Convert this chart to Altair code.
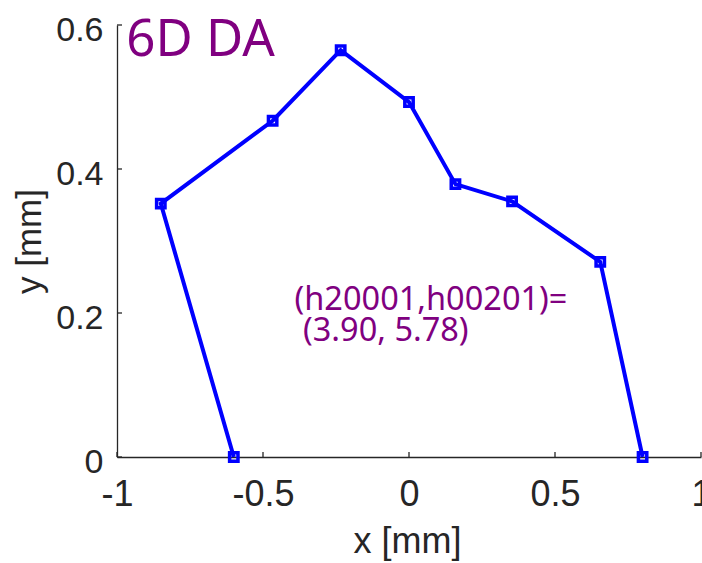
import altair as alt
import pandas as pd

# ---- data ----
x_vals = [-0.60, -0.85, -0.467, -0.234, 0.0, 0.159, 0.353, 0.655, 0.80]
y_vals = [0.0, 0.352, 0.467, 0.565, 0.493, 0.379, 0.355, 0.271, 0.0]

x_ticks = [-1, -0.5, 0, 0.5, 1]
y_ticks = [0, 0.2, 0.4, 0.6]

title_text = "6D DA"
title_pos = (-0.968, 0.557)
note_lines = ["(h20001,h00201)=", "(3.90, 5.78)"]
note_x = [-0.392, -0.363]
note_y = [0.2046, 0.1605]

W, H = 584, 432
BLUE = "#0000FF"
PURPLE = "#800080"
AXIS_GRAY = "#262626"

df = pd.DataFrame({"x": x_vals, "y": y_vals, "i": list(range(len(x_vals)))})
xt = pd.DataFrame({"t": x_ticks})
yt = pd.DataFrame({"t": y_ticks})
title_df = pd.DataFrame({"x": [title_pos[0]], "y": [title_pos[1]], "label": [title_text]})
note_df = pd.DataFrame({"x": note_x, "y": note_y, "label": note_lines})

xscale = alt.Scale(domain=[-1, 1], nice=False, zero=False)
yscale = alt.Scale(domain=[0, 0.6], nice=False, zero=False)

x_axis = alt.Axis(
    title="x [mm]", values=x_ticks, grid=False, ticks=False,
    labelFont="Liberation Sans", labelFontSize=36, labelColor=AXIS_GRAY,
    labelPadding=20, labelFlush=False, labelOverlap=False,
    labelExpr="datum.value < 0 ? '-' + format(-datum.value, '') : format(datum.value, '')",
    domainColor=AXIS_GRAY, domainWidth=1.3,
    titleFont="Liberation Sans", titleFontSize=36, titleFontWeight="normal",
    titleColor=AXIS_GRAY, titleBaseline="alphabetic", titleY=95, titleX=W / 2 - 2,
    titleAlign="center",
)
y_axis = alt.Axis(
    title="y [mm]", values=y_ticks, grid=False, ticks=False,
    labelFont="Liberation Sans", labelFontSize=34, labelColor=AXIS_GRAY,
    labelPadding=14, labelOffset=5, labelFlush=False, labelOverlap=False,
    labelExpr="format(datum.value, '')",
    domainColor=AXIS_GRAY, domainWidth=1.3,
    titleFont="Liberation Sans", titleFontSize=35, titleFontWeight="normal",
    titleColor=AXIS_GRAY, titleBaseline="alphabetic", titleAngle=270,
    titleX=-77, titleY=H / 2, titleAlign="center",
)

line = alt.Chart(df).mark_line(color=BLUE, strokeWidth=4).encode(
    x=alt.X("x:Q", scale=xscale, axis=x_axis),
    y=alt.Y("y:Q", scale=yscale, axis=y_axis),
    order="i:Q",
)
pts = alt.Chart(df).mark_point(
    shape="square", filled=False, color=BLUE, size=70, strokeWidth=3.5, opacity=1
).encode(x="x:Q", y="y:Q")

xtick = alt.Chart(xt).mark_rule(color=AXIS_GRAY, strokeWidth=1.3).encode(
    x="t:Q", y=alt.value(H), y2=alt.value(H - 5)
)
ytick = alt.Chart(yt).mark_rule(color=AXIS_GRAY, strokeWidth=1.3).encode(
    y="t:Q", x=alt.value(0), x2=alt.value(5)
)

title = alt.Chart(title_df).mark_text(
    font="Noto Sans", fontSize=51, color=PURPLE, align="left", baseline="alphabetic"
).encode(x="x:Q", y="y:Q", text="label:N")

note = alt.Chart(note_df).mark_text(
    font="Noto Sans", fontSize=32.5, color=PURPLE, align="left", baseline="alphabetic",
).encode(x="x:Q", y="y:Q", text="label:N")

chart = (
    alt.layer(xtick, ytick, line, pts, title, note)
    .properties(
        width=W, height=H,
        autosize=alt.AutoSizeParams(type="none"),
        padding={"left": 117, "top": 25, "right": 1, "bottom": 106},
        background="white",
    )
    .configure_view(strokeWidth=0)
)

chart.save("out.html", embed_options={"renderer": "svg", "actions": False})
